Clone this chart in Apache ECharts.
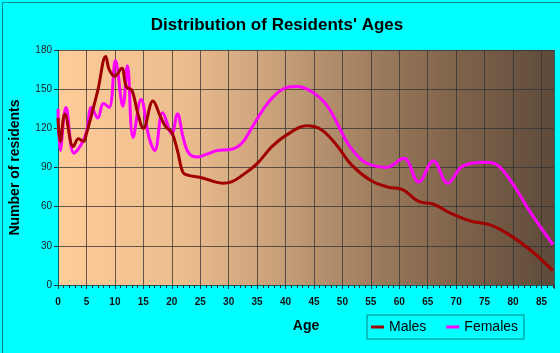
<!DOCTYPE html>
<html>
<head>
<meta charset="utf-8">
<script src="https://cdn.jsdelivr.net/npm/echarts@6/dist/echarts.min.js"></script>
<style>
html,body{margin:0;padding:0;background:#00FFFF;}
#c{width:560px;height:353px;}
</style>
</head>
<body>
<div id="c"></div>
<script>
var xTicks = [0,5,10,15,20,25,30,35,40,45,50,55,60,65,70,75,80,85];
var yTicks = [0,30,60,90,120,150,180];

var maleAges = [0,0.4,1.2,2.7,3.6,4.5,5,6,7,8.4,9,10,11.2,12,13,14,15,16.7,18,19,20,21,22,23,25.4,28.9,30.5,32.4,35,37.6,40.2,43.7,46.3,49,51.6,55,58,60.6,63.4,66,69,72.5,76,79.5,83,87];
var maleValues = [128,110,131,106,112,110,116,132,149,175,165,160,166,152,149,132,120,141,129,121,117,103,86,84,82,78,79,84,93,106,115,122,119,107,92,80,75,73,64,62,55,49,46,38,27,11];

var femaleAges = [0,0.4,1.4,2.8,4,5,5.9,7,8,9,10.1,11.4,12.2,13.2,14.6,16,17,18.4,20,21,22,23,24.5,26,28,30.5,32.4,34,36,37.6,40,42,44.6,47.2,49.3,51,53.3,55,57.7,60.8,63.4,66,68.5,70.8,72.5,75,77.2,80,83,87];
var femaleValues = [135,103,136,101,107,117,136,128,139,136,172,137,168,113,142,113,103,132,116,131,113,101,98,100,103,104,109,120,134,143,151,152,148,138,122,108,96,92,90,97,79,95,78,90,93,94,92,77,56,31];

function pairs(xs, ys){ return xs.map(function(x,i){ return [x, ys[i]]; }); }

var chart = echarts.init(document.getElementById('c'), null, {renderer:'canvas'});
chart.setOption({
  backgroundColor: '#00FFFF',
  animation: false,
  graphic: [{
    type: 'rect', left: 0, top: 0, silent: true, z: 100,
    shape: {x: 0.5, y: 0.5, width: 559, height: 352},
    style: {fill: null, stroke: '#008B8B', lineWidth: 1}
  }],
  title: {
    text: "Distribution of Residents' Ages",
    left: 272, top: 12, textAlign: 'center',
    textStyle: {fontFamily: 'Liberation Sans, Arial', fontSize: 17, fontWeight: 'bold', color: '#000'}
  },
  grid: {
    left: 55, right: 6, top: 50, bottom: 68,
    show: true, borderWidth: 0,
    backgroundColor: new echarts.graphic.LinearGradient(0,0,1,0,[
      {offset:0, color:'#FFCC99'},
      {offset:0.25, color:'#EDBD8E'},
      {offset:0.47, color:'#C29B76'},
      {offset:0.71, color:'#8F7054'},
      {offset:1, color:'#5E4A3A'}
    ])
  },
  legend: {
    left: 367, top: 315,
    orient: 'horizontal',
    borderColor: '#008080', borderWidth: 1,
    padding: [5, 6, 5, 4],
    itemWidth: 13, itemHeight: 3, itemGap: 20,
    icon: 'rect',
    textStyle: {fontFamily: 'Liberation Sans, Arial', fontSize: 14, color: '#000'},
    data: ['Males', 'Females']
  },
  xAxis: {
    type: 'value', min: 0, max: 87.2, interval: 5,
    name: 'Age', nameLocation: 'middle', nameGap: 34,
    nameTextStyle: {fontFamily: 'Liberation Sans, Arial', fontSize: 14, fontWeight: 'bold', color: '#000'},
    axisLine: {show: true, lineStyle: {color: '#006666', width: 1}},
    axisTick: {show: true, length: 4, inside: false, lineStyle: {color: '#333'}},
    minorTick: {show: true, splitNumber: 5, length: 3, lineStyle: {color: '#333'}},
    axisLabel: {
      margin: 12,
      fontFamily: 'Liberation Sans, Arial', fontSize: 10, fontWeight: 'bold', color: '#111',
      customValues: xTicks
    },
    splitLine: {show: true, lineStyle: {color: 'rgba(50,50,50,0.75)', width: 1}}
  },
  yAxis: {
    type: 'value', min: 0, max: 180, interval: 30,
    name: 'Number of residents', nameLocation: 'middle', nameGap: 36, nameRotate: 90,
    nameTextStyle: {fontFamily: 'Liberation Sans, Arial', fontSize: 14, fontWeight: 'bold', color: '#000'},
    axisLine: {show: true, lineStyle: {color: '#006666', width: 1}},
    axisTick: {show: true, length: 4, lineStyle: {color: '#333'}},
    axisLabel: {fontFamily: 'Liberation Sans, Arial', fontSize: 10, color: '#222', margin: 6, customValues: yTicks},
    splitLine: {show: true, lineStyle: {color: 'rgba(50,50,50,0.75)', width: 1}}
  },
  series: [
    {
      name: 'Males', type: 'line', data: pairs(maleAges, maleValues),
      smooth: 0.4, showSymbol: false, symbol: 'none',
      lineStyle: {color: '#A00000', width: 3}, itemStyle: {color: '#A00000'}, z: 3
    },
    {
      name: 'Females', type: 'line', data: pairs(femaleAges, femaleValues),
      smooth: 0.4, showSymbol: false, symbol: 'none',
      lineStyle: {color: '#FF00FF', width: 3}, itemStyle: {color: '#FF00FF'}, z: 2
    }
  ]
});
</script>
</body>
</html>
